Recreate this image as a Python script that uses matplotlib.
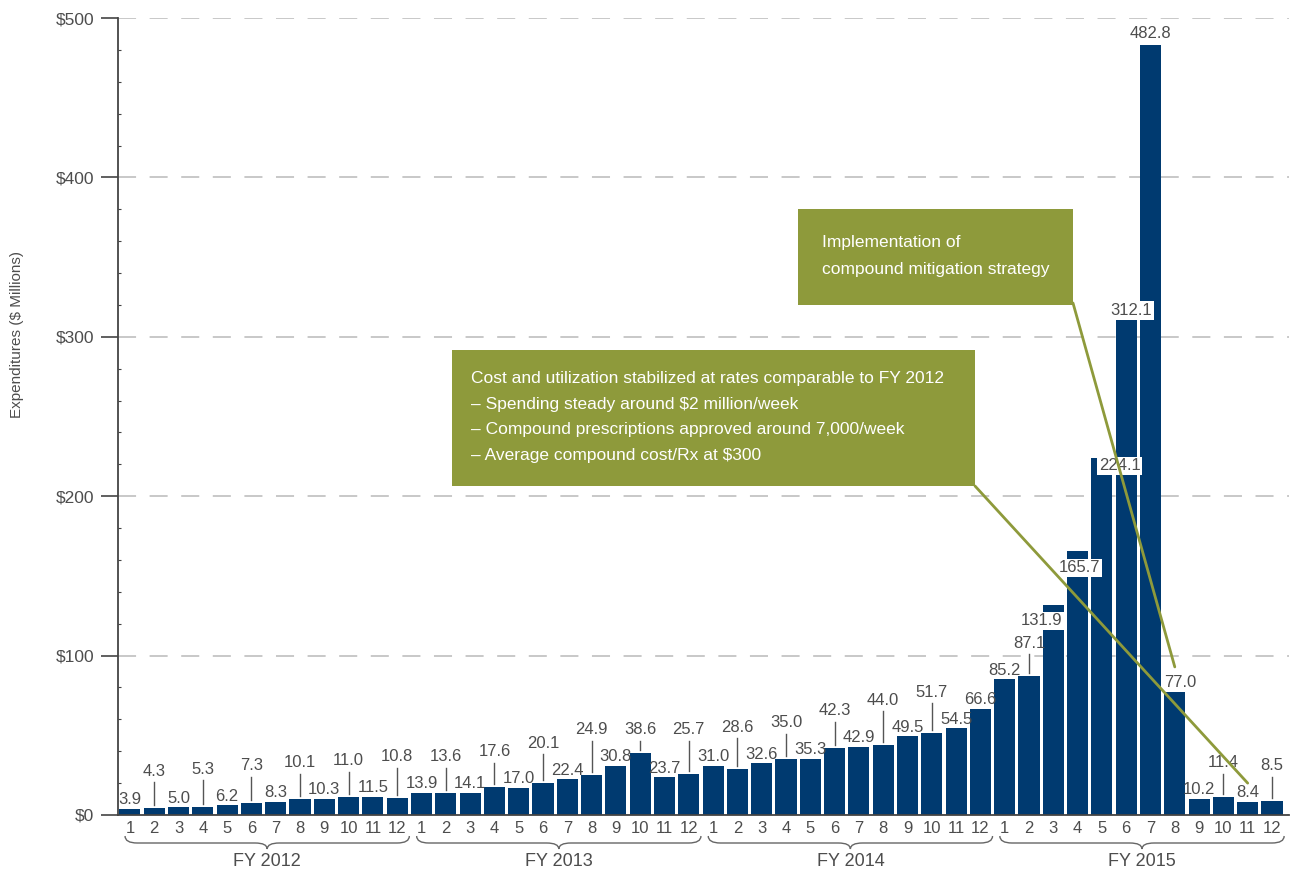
import matplotlib
matplotlib.use('Agg')
import matplotlib.pyplot as plt
import numpy as np
from matplotlib.patches import Rectangle, PathPatch
from matplotlib.path import Path
from matplotlib.ticker import MultipleLocator
from matplotlib.transforms import blended_transform_factory

# data: monthly expenditures ($ millions)
years = ['FY 2012', 'FY 2013', 'FY 2014', 'FY 2015']
months = [str(m) for m in range(1, 13)]
fy2012 = [3.9, 4.3, 5.0, 5.3, 6.2, 7.3, 8.3, 10.1, 10.3, 11.0, 11.5, 10.8]
fy2013 = [13.9, 13.6, 14.1, 17.6, 17.0, 20.1, 22.4, 24.9, 30.8, 38.6, 23.7, 25.7]
fy2014 = [31.0, 28.6, 32.6, 35.0, 35.3, 42.3, 42.9, 44.0, 49.5, 51.7, 54.5, 66.6]
fy2015 = [85.2, 87.1, 131.9, 165.7, 224.1, 312.1, 482.8, 77.0, 10.2, 11.4, 8.4, 8.5]
yticks = [0, 100, 200, 300, 400, 500]
note_top = 'Implementation of\ncompound mitigation strategy'
note_low = ('Cost and utilization stabilized at rates comparable to FY 2012\n'
            '– Spending steady around $2 million/week\n'
            '– Compound prescriptions approved around 7,000/week\n'
            '– Average compound cost/Rx at $300')

plt.rcParams['font.family'] = ['Liberation Sans Narrow', 'Liberation Sans']
NAVY = '#003A70'
OLIVE = '#8E9A3B'
GREY = '#4d4d4d'

W, H = 1291, 874
fig = plt.figure(figsize=(W / 100, H / 100), dpi=100)
def fx(px): return px / W
def fy(py): return 1 - py / H

ax = fig.add_axes([fx(118), fy(815), fx(1289) - fx(118), (815 - 18) / H])

values = np.array(fy2012 + fy2013 + fy2014 + fy2015)
x = np.arange(len(values))
ax.bar(x, values, width=0.87, color=NAVY, zorder=2)

ax.set_xlim(-0.49, 47.7)
ax.set_ylim(0, 500)
upx = 500 / (815 - 18)  # data units per pixel

# y axis
ax.set_yticks(yticks)
ax.set_yticklabels(['$%d' % v for v in yticks])
ax.yaxis.set_minor_locator(MultipleLocator(20))
ax.tick_params(axis='y', which='major', length=12, width=1.2, color='#444444',
               labelsize=12.5, labelcolor=GREY, pad=5)
ax.tick_params(axis='y', which='minor', direction='in', length=2.5, width=0.8, color='#444444')
ax.yaxis.grid(True, which='major', color='#c4c4c4', lw=1.3, ls=(0, (10, 7.5)), zorder=0)
for s in ['top', 'right']:
    ax.spines[s].set_visible(False)
for s in ['left', 'bottom']:
    ax.spines[s].set_color('#444444')
    ax.spines[s].set_linewidth(1.3)

# x axis
ax.set_xticks(x)
ax.set_xticklabels(months * 4)
ax.tick_params(axis='x', length=0, labelsize=12, labelcolor=GREY, pad=4)

fig.text(fx(17), fy(335), 'Expenditures ($ Millions)', rotation=90, ha='center', va='center',
         fontsize=11, color=GREY)

# value labels
lifted = [1, 3, 5, 7, 9, 11, 13, 15, 17, 19, 21, 23, 25, 27, 29, 31, 33, 37, 45, 47]
special = {38: (-12, 16), 39: (2, 17), 40: (18, 8), 41: (5, -7), 42: (0, -12), 43: (5, -10)}
for i, v in enumerate(values):
    lab = '%.1f' % v
    if i in lifted:
        nb = [values[j] for j in (i - 1, i + 1) if 0 <= j < len(values) and values[j] < 1.3 * v]
        ref = max(nb) if nb else v
        ly = ref + 36 * upx
        ax.text(i, ly, lab, ha='center', va='center', fontsize=12, color=GREY, zorder=4)
        ax.plot([i, i], [v + 3 * upx, ly - 11 * upx], color='#555555', lw=1, zorder=4)
    elif i in special:
        dx, dy = special[i]
        ax.text(i + dx / 24.3, v - dy * upx, lab, ha='center', va='center', fontsize=12,
                color=GREY, zorder=4,
                bbox=dict(boxstyle='square,pad=0.1', fc='white', ec='none'))
    else:
        ax.text(i, v + 9 * upx, lab, ha='center', va='center', fontsize=12, color=GREY, zorder=4)

# braces and year labels
tb = blended_transform_factory(ax.transData, fig.transFigure)
for g, name in enumerate(years):
    x0, x1 = g * 12 - 0.2, g * 12 + 11.5
    xc = (x0 + x1) / 2
    yt, ym, yp = fy(836), fy(843), fy(849)
    verts = [(x0, yt), (x0, ym), (x0 + 0.5, ym), (xc - 0.5, ym), (xc, ym), (xc, yp),
             (xc, ym), (xc + 0.5, ym), (x1 - 0.5, ym), (x1, ym), (x1, yt)]
    codes = [Path.MOVETO, Path.CURVE3, Path.CURVE3, Path.LINETO, Path.CURVE3, Path.CURVE3,
             Path.CURVE3, Path.CURVE3, Path.LINETO, Path.CURVE3, Path.CURVE3]
    ax.add_patch(PathPatch(Path(verts, codes), fc='none', ec='#666666', lw=1,
                           transform=tb, clip_on=False))
    ax.text(xc, fy(862), name, transform=tb, ha='center', va='center', fontsize=13,
            color=GREY, clip_on=False)

# annotation boxes
fig.patches.append(Rectangle((fx(798), fy(305)), fx(1073) - fx(798), (305 - 209) / H,
                             transform=fig.transFigure, fc=OLIVE, ec='none', zorder=5))
fig.text(fx(822), fy(256), note_top, ha='left', va='center', fontsize=12.5, color='white',
         linespacing=1.95, zorder=6)
fig.patches.append(Rectangle((fx(452), fy(486)), fx(975) - fx(452), (486 - 350) / H,
                             transform=fig.transFigure, fc=OLIVE, ec='none', zorder=5))
fig.text(fx(471), fy(417), note_low, ha='left', va='center', fontsize=12.5, color='white',
         linespacing=1.88, zorder=6)

# leader lines from boxes to bars
ax.annotate('', xy=(43, 92.9), xytext=(fx(1073), fy(303)), textcoords='figure fraction',
            arrowprops=dict(arrowstyle='-', color=OLIVE, lw=2, shrinkA=0, shrinkB=0), zorder=6)
ax.annotate('', xy=(46, 20), xytext=(fx(975), fy(486)), textcoords='figure fraction',
            arrowprops=dict(arrowstyle='-', color=OLIVE, lw=2, shrinkA=0, shrinkB=0), zorder=6)

fig.savefig('out.png', dpi=100)
